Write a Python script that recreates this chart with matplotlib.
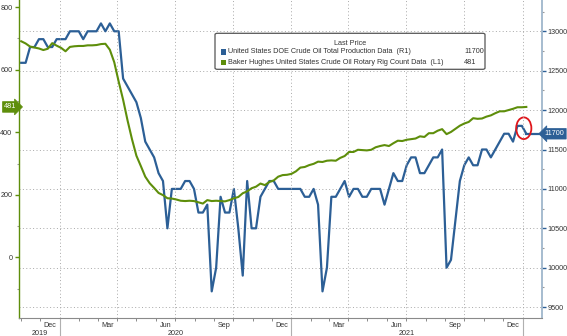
import pandas as pd
import matplotlib
matplotlib.use("Agg")
import matplotlib.pyplot as plt
import matplotlib.dates as mdates
from matplotlib.ticker import MultipleLocator, FixedLocator, NullFormatter, StrMethodFormatter
from matplotlib.patches import Ellipse, FancyBboxPatch, Rectangle

plt.rcParams['font.family'] = ['Liberation Sans', 'DejaVu Sans']

# weekly data, first week 2019-11-01, last week 2022-01-07
weeks = pd.date_range("2019-11-01", "2022-01-07", freq="7D")

# US DOE crude oil production (thousand b/d), right axis
production = [12600, 12600, 12800, 12800, 12900, 12900, 12800, 12800, 12900, 12900,
              12900, 13000, 13000, 13000, 12900, 13000, 13000, 13000, 13100, 13000,
              13100, 13000, 13000, 12400, 12300, 12200, 12100, 11900, 11600, 11500,
              11400, 11200, 11100, 10500, 11000, 11000, 11000, 11100, 11100, 11000,
              10700, 10700, 10800, 9700, 10000, 10900, 10700, 10700, 11000, 10500,
              9900, 11100, 10500, 10500, 10900, 11000, 11100, 11100, 11000, 11000,
              11000, 11000, 11000, 11000, 10900, 10900, 11000, 10800, 9700, 10000,
              10900, 10900, 11000, 11100, 10900, 11000, 11000, 10900, 10900, 11000,
              11000, 11000, 10800, 11000, 11200, 11100, 11100, 11300, 11400, 11400,
              11200, 11200, 11300, 11400, 11400, 11500, 10000, 10100, 10600, 11100,
              11300, 11400, 11300, 11300, 11500, 11500, 11400, 11500, 11600, 11700,
              11700, 11600, 11800, 11800, 11700]

# Baker Hughes US oil rig count, left axis
rigs = [691, 684, 674, 671, 668, 663, 667, 685, 677,
        670, 659, 673, 675, 676, 676, 678, 678, 679, 682, 683, 664, 624,
        562, 504, 438, 378, 325, 292, 258, 237, 222, 206, 199, 189, 188,
        185, 181, 180, 181, 180, 176, 172, 183, 180, 181, 180, 179, 183,
        189, 193, 205, 211, 221, 226, 236, 231, 241, 246, 258, 263, 264, 267,
        275, 287, 289, 295, 299, 306, 305, 309, 310, 309, 318, 324,
        337, 337, 344, 343, 342, 344, 352, 356, 359, 356, 365, 373, 372,
        376, 378, 380, 387, 385, 397, 397, 405, 410, 394, 401, 411, 421,
        428, 433, 445, 443, 444, 450, 454, 461, 467, 467, 471, 475, 480, 480,
        481]

prod_label = "United States DOE Crude Oil Total Production Data  (R1)"
rig_label = "Baker Hughes United States Crude Oil Rotary Rig Count Data  (L1)"

BLUE = '#2c5f96'
GREEN = '#5e8e0b'
GRID = '#a8a8a8'
TXT = '#333333'
FS = 5.2

W, H = 567, 336
fig = plt.figure(figsize=(W / 100, H / 100), dpi=100)


def px(x, y):
    return x / W, 1 - y / H


L, R, T, B = 19.3, 541.5, 0, 318
ax = fig.add_axes([L / W, 1 - B / H, (R - L) / W, (B - T) / H])
ax2 = ax.twinx()
ax.set_zorder(ax2.get_zorder() + 1)
ax.patch.set_visible(False)

xmin, xmax = pd.Timestamp("2019-10-29"), pd.Timestamp("2022-01-31")

# lines
ax2.plot(weeks, production, color=BLUE, lw=1.6, zorder=3)
ax2.plot([weeks[-1], xmax], [production[-1]] * 2, color=BLUE, lw=1.6, zorder=3, clip_on=False)
ax.plot(weeks, rigs, color=GREEN, lw=1.5, zorder=3)

ax.set_xlim(xmin, xmax)
ax.set_ylim(-194, 823)
ax2.set_ylim(9362, 13397)

# spines
for s in ['top', 'right']:
    ax.spines[s].set_visible(False)
for s in ['top', 'left', 'bottom']:
    ax2.spines[s].set_visible(False)
ax.spines['left'].set_color(GREEN)
ax.spines['left'].set_linewidth(1.0)
ax.spines['bottom'].set_color('#8a8a8a')
ax.spines['bottom'].set_linewidth(0.8)
ax2.spines['right'].set_color('#9fb6cc')
ax2.spines['right'].set_linewidth(1.3)

# left axis ticks
ax.yaxis.set_major_locator(FixedLocator([0, 200, 400, 600, 800]))
ax.yaxis.set_minor_locator(MultipleLocator(100))
ax.tick_params(axis='y', which='major', direction='out', length=3, width=1,
               color=GREEN, labelsize=FS, labelcolor=TXT, pad=2)
ax.tick_params(axis='y', which='minor', direction='out', length=1.5, width=0.8, color='#999999')

# right axis ticks
ax2.yaxis.set_major_locator(MultipleLocator(500))
ax2.yaxis.set_minor_locator(MultipleLocator(250))
ax2.yaxis.set_major_formatter(StrMethodFormatter('{x:.0f}'))
ax2.tick_params(axis='y', which='major', direction='out', length=3, width=1,
                color=BLUE, labelsize=FS, labelcolor=TXT, pad=1.5)
ax2.tick_params(axis='y', which='minor', direction='out', length=1.5, width=0.8, color='#999999')
ax2.grid(axis='y', which='major', color=GRID, lw=0.7, linestyle=(0, (1, 2.5)))

# x axis: monthly ticks, quarterly grid
ax.xaxis.set_major_locator(mdates.MonthLocator(bymonth=[1, 4, 7, 10]))
ax.xaxis.set_minor_locator(mdates.MonthLocator())
ax.xaxis.set_major_formatter(NullFormatter())
ax.tick_params(axis='x', which='both', direction='out', length=2.5, width=0.7, color='#8a8a8a')
ax.grid(axis='x', which='major', color=GRID, lw=0.7, linestyle=(0, (1, 2.5)))
ax.set_axisbelow(True)

xt = ax.get_xaxis_transform()
for m in pd.date_range(xmin, xmax, freq='MS'):
    if m.month in (3, 6, 9, 12):
        mid = m + pd.Timedelta(days=15)
        ax.text(mid, -0.024, m.strftime('%b'), transform=xt, ha='center', va='center',
                fontsize=FS, color=TXT)
for yr in (2019, 2020, 2021, 2022):
    a = max(pd.Timestamp(f"{yr}-01-01"), xmin)
    b = min(pd.Timestamp(f"{yr + 1}-01-01"), xmax)
    if (b - a).days > 60:
        ax.text(a + (b - a) / 2, -0.048, str(yr), transform=xt, ha='center', va='center',
                fontsize=FS, color=TXT)
    if yr > 2019:
        ax.axvline(pd.Timestamp(f"{yr}-01-01"), ymin=-0.07, ymax=0, clip_on=False,
                   color='#b0b0b0', lw=0.8)

# last value tags
ax.text(-0.005, rigs[-1], str(rigs[-1]), transform=ax.get_yaxis_transform(), ha='right',
        va='center', fontsize=FS, color='white', clip_on=False,
        bbox=dict(boxstyle='rarrow,pad=0.25', fc=GREEN, ec=GREEN, lw=0.5))
ax2.text(1.006, production[-1], str(production[-1]), transform=ax2.get_yaxis_transform(),
         ha='left', va='center', fontsize=FS, color='white', clip_on=False,
         bbox=dict(boxstyle='larrow,pad=0.25', fc=BLUE, ec=BLUE, lw=0.5))

# red highlight ring
ax2.add_patch(Ellipse((mdates.date2num(pd.Timestamp("2022-01-03")), 11770), 24, 275,
                      fill=False, ec='#e0161b', lw=1.3, zorder=5))

# legend box
x0, y0 = px(215, 69.3)
x1, y1 = px(485, 33.3)
fig.add_artist(FancyBboxPatch((x0, y0), x1 - x0, y1 - y0, boxstyle='round,pad=0,rounding_size=0.004',
                              transform=fig.transFigure, fc='white', ec='#555555', lw=0.9, zorder=10))
fig.text(*px(350, 43.3), "Last Price", ha='center', va='center', fontsize=FS, color=TXT, zorder=11)
for yy, col, lab, val in [(51.7, BLUE, prod_label, production[-1]), (62.3, GREEN, rig_label, rigs[-1])]:
    sx, sy = px(220.5, yy + 2.8)
    fig.add_artist(Rectangle((sx, sy), 5.5 / W, 5.5 / H, transform=fig.transFigure,
                             fc=col, ec='none', zorder=11))
    fig.text(*px(228.5, yy), lab, ha='left', va='center', fontsize=FS, color=TXT, zorder=11)
    fig.text(*px(464, yy), str(val), ha='left', va='center', fontsize=FS, color=TXT, zorder=11)

fig.savefig("out.png", dpi=100)
